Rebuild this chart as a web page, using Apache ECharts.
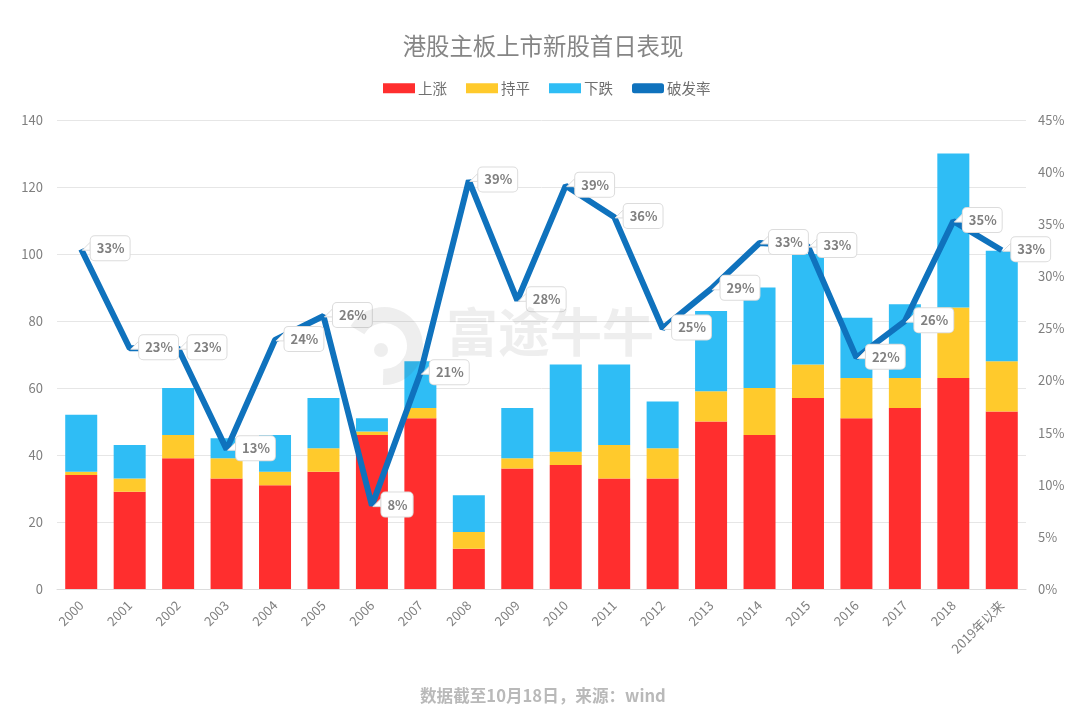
<!DOCTYPE html>
<html>
<head>
<meta charset="utf-8">
<style>html,body{margin:0;padding:0;background:#fff}#main{width:1080px;height:723px}</style>
<script src="https://cdn.jsdelivr.net/npm/echarts@6/dist/echarts.min.js"></script>
</head>
<body>
<div id="main"></div>
<script>
var myChart = echarts.init(document.getElementById('main'));

// data
var years = ['2000', '2001', '2002', '2003', '2004', '2005', '2006', '2007', '2008', '2009', '2010', '2011', '2012', '2013', '2014', '2015', '2016', '2017', '2018', '2019年以来'];
var up = [34, 29, 39, 33, 31, 35, 46, 51, 12, 36, 37, 33, 33, 50, 46, 57, 51, 54, 63, 53];
var flat = [1, 4, 7, 6, 4, 7, 1, 3, 5, 3, 4, 10, 9, 9, 14, 10, 12, 9, 21, 15];
var down = [17, 10, 14, 6, 11, 15, 4, 14, 11, 15, 26, 24, 14, 24, 30, 33, 18, 22, 46, 33];
var breakRate = [32.6, 23.1, 23.1, 13.4, 23.9, 26.2, 8, 20.7, 39.2, 27.7, 38.7, 35.7, 25, 28.8, 33.2, 32.9, 22.2, 25.7, 35.3, 32.5];

var fontName = '"Noto Sans CJK SC", "Noto Sans", sans-serif';
var textGrey = '#7f7f7f';

function barSeries(name, values, color) {
    return {
        name: name,
        type: 'bar',
        stack: 'ipo',
        barWidth: 32,
        itemStyle: { color: color },
        data: values
    };
}

var option = {
    backgroundColor: '#fff',
    animation: false,
    textStyle: { fontFamily: fontName },
    title: {
        text: '港股主板上市新股首日表现',
        left: 538,
        top: 29,
        textAlign: 'center',
        textStyle: { color: '#858585', fontSize: 23.4, fontWeight: 'normal', fontFamily: fontName }
    },
    legend: {
        left: 378,
        top: 76,
        itemWidth: 32,
        itemHeight: 10,
        itemGap: 19,
        textStyle: { color: '#6f6f6f', fontSize: 14.5, padding: [0, 0, 0, -2] },
        data: [
            { name: '上涨', icon: 'rect' },
            { name: '持平', icon: 'rect' },
            { name: '下跌', icon: 'rect' },
            { name: '破发率', icon: 'roundRect', itemStyle: { color: '#0f72bd', borderWidth: 0 } }
        ]
    },
    grid: { left: 57, right: 54, top: 120, bottom: 134 },
    xAxis: {
        type: 'category',
        data: years,
        axisTick: { show: false },
        axisLine: { lineStyle: { color: '#dcdcdc' } },
        axisLabel: { rotate: 45, color: textGrey, fontSize: 13, margin: 14, interval: 0 }
    },
    yAxis: [{
        type: 'value',
        min: 0,
        max: 140,
        interval: 20,
        axisLine: { show: false },
        axisTick: { show: false },
        axisLabel: { color: textGrey, fontSize: 13, margin: 14 },
        splitLine: { lineStyle: { color: '#e6e6e6' } }
    }, {
        type: 'value',
        min: 0,
        max: 45,
        interval: 5,
        axisLine: { show: false },
        axisTick: { show: false },
        axisLabel: { color: textGrey, fontSize: 13, margin: 12, formatter: '{value}%' },
        splitLine: { show: false }
    }],
    series: [
        barSeries('上涨', up, '#ff2e2e'),
        barSeries('持平', flat, '#ffca2c'),
        barSeries('下跌', down, '#2fbdf5'),
        {
            name: '破发率',
            type: 'line',
            yAxisIndex: 1,
            data: breakRate,
            z: 5,
            // little callout tail pointing from the label back to the point
            symbol: 'path://M0 10 L10 0 L10 10 Z',
            symbolSize: 8,
            symbolOffset: [5, -3],
            showAllSymbol: true,
            itemStyle: { color: '#fff', borderColor: '#dcdcdc', borderWidth: 1 },
            lineStyle: { color: '#0f72bd', width: 6 },
            label: {
                show: true,
                position: 'right',
                distance: 0,
                offset: [0, 2],
                formatter: function(p) { return Math.round(p.value) + '%'; },
                color: '#808080',
                fontSize: 13,
                fontWeight: 'bold',
                backgroundColor: '#fff',
                borderColor: '#dcdcdc',
                borderWidth: 1,
                borderRadius: 4,
                padding: [6, 5, 5, 6]
            }
        }
    ],
    graphic: [
        // watermark
        {
            type: 'text',
            left: 446,
            top: 306,
            z: 10,
            silent: true,
            style: { text: '富途牛牛', fill: 'rgba(90,90,90,0.10)', font: 'bold 52px ' + fontName }
        },
        {
            type: 'arc',
            shape: { cx: 384, cy: 346, r: 31, startAngle: -2.6, endAngle: 1.6 },
            z: 10,
            silent: true,
            style: { stroke: 'rgba(90,90,90,0.10)', fill: null, lineWidth: 16 }
        },
        {
            type: 'circle',
            shape: { cx: 381, cy: 350, r: 7 },
            z: 10,
            silent: true,
            style: { fill: 'rgba(90,90,90,0.10)' }
        },
        {
            type: 'text',
            left: 420,
            top: 687,
            style: { text: '数据截至10月18日，来源：wind', fill: '#b9b9b9', font: 'bold 16.6px ' + fontName }
        }
    ]
};
myChart.setOption(option);
</script>
</body>
</html>
